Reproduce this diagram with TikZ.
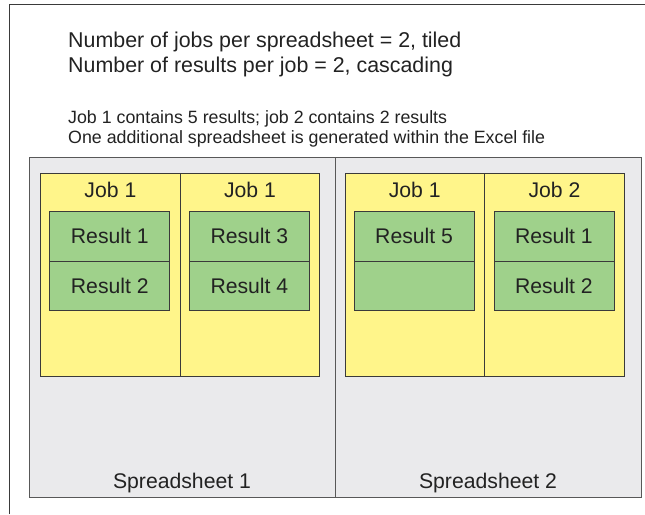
\documentclass[tikz,border=0pt]{standalone}
\usepackage{fontspec}
\setmainfont{Liberation Sans}
\usetikzlibrary{positioning}

\definecolor{sheetgray}{HTML}{EAEAEC}
\definecolor{jobyellow}{HTML}{FFF58A}
\definecolor{resgreen}{HTML}{9FD18B}
\definecolor{edgegray}{HTML}{3A3A3A}
\definecolor{inkgray}{HTML}{222222}

\tikzset{
	sheetbox/.style={draw=edgegray!85, fill=sheetgray, line width=1pt, inner sep=0pt,
		minimum width=306pt, minimum height=340pt},
	jobbox/.style={draw=edgegray, fill=jobyellow, line width=.8pt, inner sep=0pt,
		minimum width=139.5pt, minimum height=202.7pt},
	resbox/.style={draw=edgegray, fill=resgreen, line width=.8pt, inner sep=0pt,
		minimum width=120pt, minimum height=49.4pt, text=inkgray, font=\fontsize{21.2}{25}\selectfont},
	boxtext/.style={anchor=base, inner sep=0pt, text=inkgray, font=\fontsize{21.2}{25}\selectfont},
	headtext/.style={anchor=base west, inner sep=0pt, text=inkgray, font=\fontsize{21.4}{25}\selectfont},
	notetext/.style={anchor=base west, inner sep=0pt, text=inkgray, font=\fontsize{17.8}{21}\selectfont}
}

\begin{document}
\begin{tikzpicture}[x=1pt,y=-1pt]
\useasboundingbox (0,0) rectangle (645,514);
\draw[edgegray, line width=1.2pt] (9.5,514) |- (645,4.5);

\node[headtext] (head1) at (68,47) {Number of jobs per spreadsheet = 2, tiled};
\node[headtext] (head2) at (68,72) {Number of results per job = 2, cascading};
\node[notetext] (note1) at (68,123) {Job 1 contains 5 results; job 2 contains 2 results};
\node[notetext] (note2) at (68,143) {One additional spreadsheet is generated within the Excel file};

\foreach \s/\x in {1/182,2/488}
	{\node[sheetbox] (sheet\s) at (\x,327) {};
	\node[boxtext] (sheetname\s) at (\x,488) {Spreadsheet \s};}

\foreach \j/\x/\n/\ra/\rb in {1/110.4/1/Result 1/Result 2,2/250/1/Result 3/Result 4,
		3/414.7/1/Result 5/,4/554.5/2/Result 1/Result 2}
	{\node[jobbox] (job\j) at (\x,274.7) {};
	\node[boxtext] (jobname\j) at (\x,197.5) {Job \n};
	\node[resbox] (res\j a) at (\x-0.6,236.4) {\ra};
	\node[resbox, below=-.8pt of res\j a] (res\j b) {\rb};}

\end{tikzpicture}
\end{document}
